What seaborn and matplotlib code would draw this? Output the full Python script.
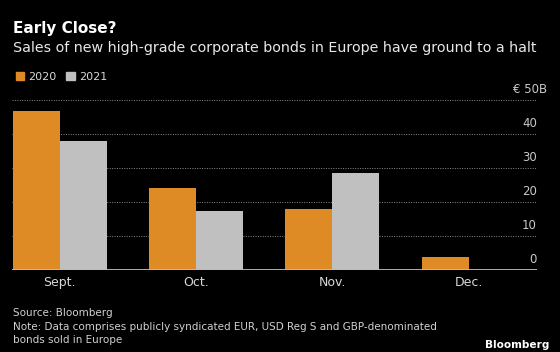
import numpy as np
import pandas as pd
import seaborn as sns
import matplotlib.pyplot as plt
from matplotlib.patches import Patch
import matplotlib.transforms as mtransforms

# Datos del gráfico
months = ["Sept.", "Oct.", "Nov.", "Dec."]
sales_2020 = [46.8, 24.0, 17.8, 3.9]
sales_2021 = [37.9, 17.4, 28.4, 0.0]
years = ["2020", "2021"]
y_ticks = [0, 10, 20, 30, 40, 50]
y_labels = ["0", "10", "20", "30", "40", "€ 50B"]

df = pd.DataFrame({
    "month": months * 2,
    "year": [years[0]] * 4 + [years[1]] * 4,
    "value": sales_2020 + sales_2021,
})

orange = "#DE8A25"
grey = "#C0C0C0"
palette = {"2020": orange, "2021": grey}

sns.set_style("dark")
plt.rcParams["font.family"] = ["DejaVu Sans"]

fig = plt.figure(figsize=(5.6, 3.52), dpi=100, facecolor="black")
ax = fig.add_axes([12 / 560, 82 / 352, 525 / 560, 170 / 352])
ax.set_facecolor("black")

sns.barplot(data=df, x="month", y="value", hue="year", palette=palette,
            width=0.69, saturation=1, legend=False, ax=ax, zorder=3,
            linewidth=0, edgecolor="none")

ax.set_xlim(-0.35, 3.5)
ax.set_ylim(0, 50)
ax.set_xlabel("")
ax.set_ylabel("")
for s in ax.spines.values():
    s.set_visible(False)

# Rejilla punteada
ax.set_yticks(y_ticks)
ax.yaxis.grid(True, color="#8c8c8c", linestyle=(0, (1, 1.5)), linewidth=0.7, zorder=1)
ax.xaxis.grid(False)
ax.tick_params(axis="y", left=False, labelleft=False)
ax.axhline(0, color="#bdbdbd", linewidth=1.3, zorder=4)

# Etiquetas del eje y encima de las líneas
trans = mtransforms.blended_transform_factory(ax.transAxes, ax.transData)
off = mtransforms.ScaledTranslation(0, 3 / 72, fig.dpi_scale_trans)
for v, lab in zip(y_ticks, y_labels):
    xr = 1.0 if v != 50 else 1.02
    ax.text(xr, v, lab, transform=trans + off, ha="right", va="bottom",
            color="#c8c8c8", fontsize=8.5)

ax.tick_params(axis="x", length=0, colors="#d8d8d8", labelsize=9, pad=4)

# Títulos
fig.text(13 / 560, 1 - 29 / 352, "Early Close?", color="white", fontsize=11,
         fontweight="bold", va="center")
fig.text(13 / 560, 1 - 48 / 352,
         "Sales of new high-grade corporate bonds in Europe have ground to a halt",
         color="#e8e8e8", fontsize=10.3, va="center")

# Leyenda
handles = [Patch(color=palette[y], label=y) for y in years]
fig.legend(handles=handles, loc="center left", bbox_to_anchor=(6 / 560, 1 - 77 / 352),
           ncol=2, frameon=False, fontsize=8, labelcolor="#d8d8d8",
           handlelength=0.75, handleheight=0.75, handletextpad=0.35, columnspacing=0.9)

# Notas
note_color = "#d0d0d0"
fig.text(13 / 560, 1 - 313 / 352, "Source: Bloomberg", color=note_color, fontsize=7.5, va="center")
fig.text(13 / 560, 1 - 326.5 / 352,
         "Note: Data comprises publicly syndicated EUR, USD Reg S and GBP-denominated",
         color=note_color, fontsize=7.5, va="center")
fig.text(13 / 560, 1 - 340 / 352, "bonds sold in Europe", color=note_color, fontsize=7.5, va="center")
fig.text(549 / 560, 1 - 345 / 352, "Bloomberg", color="white", fontsize=7.6,
         fontweight="bold", ha="right", va="center")

fig.savefig("out.png", dpi=100, facecolor="black")
